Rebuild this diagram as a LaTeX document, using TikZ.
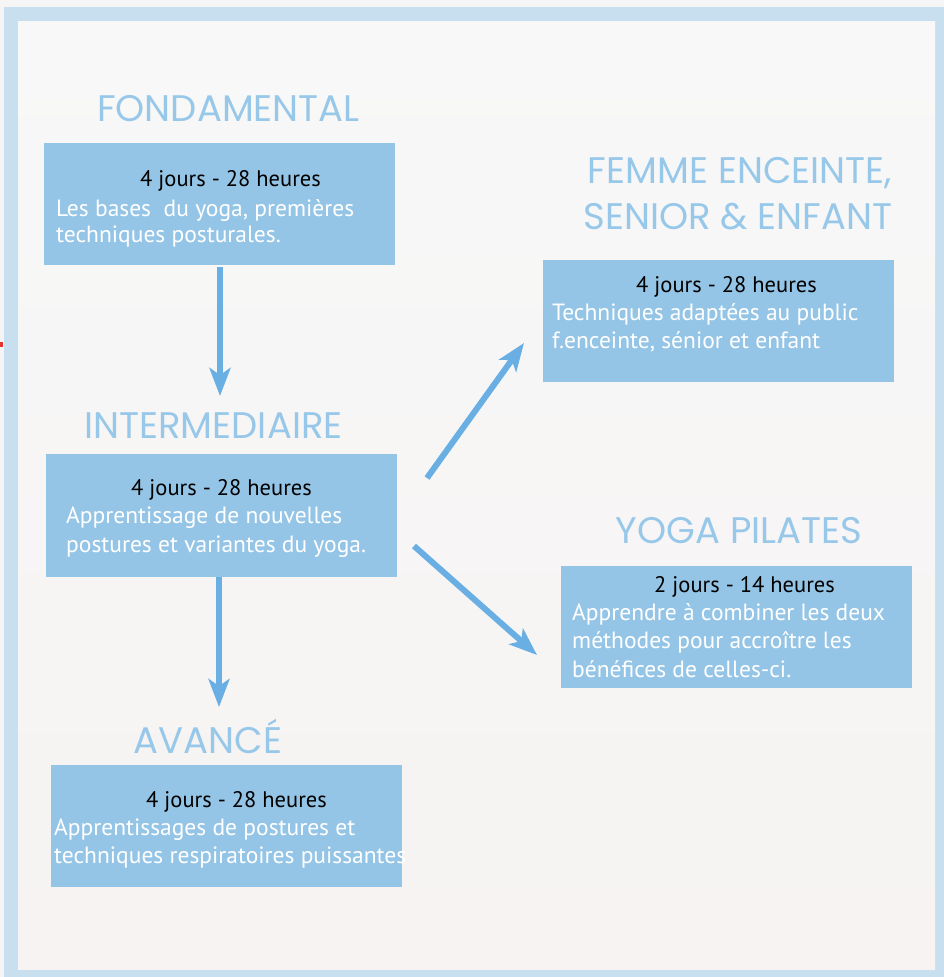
\documentclass[tikz,border=0pt]{standalone}
\usepackage{fontspec}
\setmainfont{PT Sans}
\newfontfamily\titlefont{Poppins}
\usetikzlibrary{arrows.meta}

\definecolor{pagegrey}{HTML}{F5F5F5}
\definecolor{framebl}{HTML}{C8DFEF}
\definecolor{papertop}{HTML}{F8F8F8}
\definecolor{paperbot}{HTML}{F6F3F2}
\definecolor{boxbl}{HTML}{95C5E6}
\definecolor{titlebl}{HTML}{98C8E9}
\definecolor{arrowbl}{HTML}{6AAFE3}
\definecolor{marker}{HTML}{E8322E}

\begin{document}
\begin{tikzpicture}[x=1pt,y=-1pt,
  panel/.style={fill=boxbl, draw=none, inner sep=0pt, anchor=north west},
  ttl/.style={inner sep=0pt, anchor=base, text=titlebl, font=\titlefont\fontsize{37}{40}\selectfont},
  hrs/.style={inner sep=0pt, anchor=base, text=black, font=\fontsize{22.5}{27}\selectfont},
  desc/.style={inner sep=0pt, anchor=base west, text=white, font=\fontsize{23.5}{28}\selectfont},
  arr/.style={draw=arrowbl, line width=6pt, -{Stealth[length=28pt, width=21pt, inset=7pt]}}]

% page, frame and paper
\useasboundingbox (0,0) rectangle (944,977);
\fill[pagegrey] (0,0) rectangle (944,977);
\fill[framebl] (4,7) rectangle (944,977);
\shade[top color=papertop, bottom color=paperbot] (18,21) rectangle (935,969);
\fill[marker] (0,342) rectangle (3,347);

% FONDAMENTAL
\node[ttl] (fondT) at (228.5,121) {FONDAMENTAL};
\node[panel, minimum width=351pt, minimum height=122pt] (fond) at (44,143) {};
\node[hrs] (fondH) at (230.5,186) {4 jours - 28 heures};
\node[desc] (fondL1) at (56,216) {Les bases\ \ du yoga, premières};
\node[desc] (fondL2) at (56,242) {techniques posturales.};

% INTERMEDIAIRE
\node[ttl] (interT) at (213.5,438) {INTERMEDIAIRE};
\node[panel, minimum width=351pt, minimum height=123pt] (inter) at (46,454) {};
\node[hrs] (interH) at (221.5,495) {4 jours - 28 heures};
\node[desc] (interL1) at (66,523) {Apprentissage de nouvelles};
\node[desc] (interL2) at (66,552) {postures et variantes du yoga.};

% AVANCE
\node[ttl] (avT) at (208,753) {AVANCÉ};
\node[panel, minimum width=351pt, minimum height=122pt] (av) at (51,765) {};
\node[hrs] (avH) at (236.5,807) {4 jours - 28 heures};
\node[desc] (avL1) at (54,835) {Apprentissages de postures et};
\node[desc] (avL2) at (54,863) {techniques respiratoires puissantes};

% FEMME ENCEINTE, SENIOR & ENFANT
\node[ttl] (femT1) at (740,183) {FEMME ENCEINTE,};
\node[ttl] (femT2) at (738,229) {SENIOR \& ENFANT};
\node[panel, minimum width=351pt, minimum height=122pt] (fem) at (543,260) {};
\node[hrs] (femH) at (726.5,292) {4 jours - 28 heures};
\node[desc] (femL1) at (552,320) {Techniques adaptées au public};
\node[desc] (femL2) at (552,348) {f.enceinte, sénior et enfant};

% YOGA PILATES
\node[ttl] (yogT) at (739,543) {YOGA PILATES};
\node[panel, minimum width=351pt, minimum height=122pt] (yog) at (561,566) {};
\node[hrs] (yogH) at (744.5,592) {2 jours - 14 heures};
\node[desc] (yogL1) at (572,620) {Apprendre à combiner les deux};
\node[desc] (yogL2) at (572,648) {méthodes pour accroître les};
\node[desc] (yogL3) at (572,677) {bénéfices de celles-ci.};

% arrow end points
\coordinate (a1s) at (220,267);
\coordinate (a1e) at (220,396);
\coordinate (a2s) at (219,577);
\coordinate (a2e) at (219,707);
\coordinate (a3s) at (427,478);
\coordinate (a3e) at (524,343);
\coordinate (a4s) at (414,546);
\coordinate (a4e) at (537,655);

% connectors
\draw[arr] (a1s) -- (a1e);
\draw[arr] (a2s) -- (a2e);
\draw[arr] (a3s) -- (a3e);
\draw[arr] (a4s) -- (a4e);
\end{tikzpicture}
\end{document}
